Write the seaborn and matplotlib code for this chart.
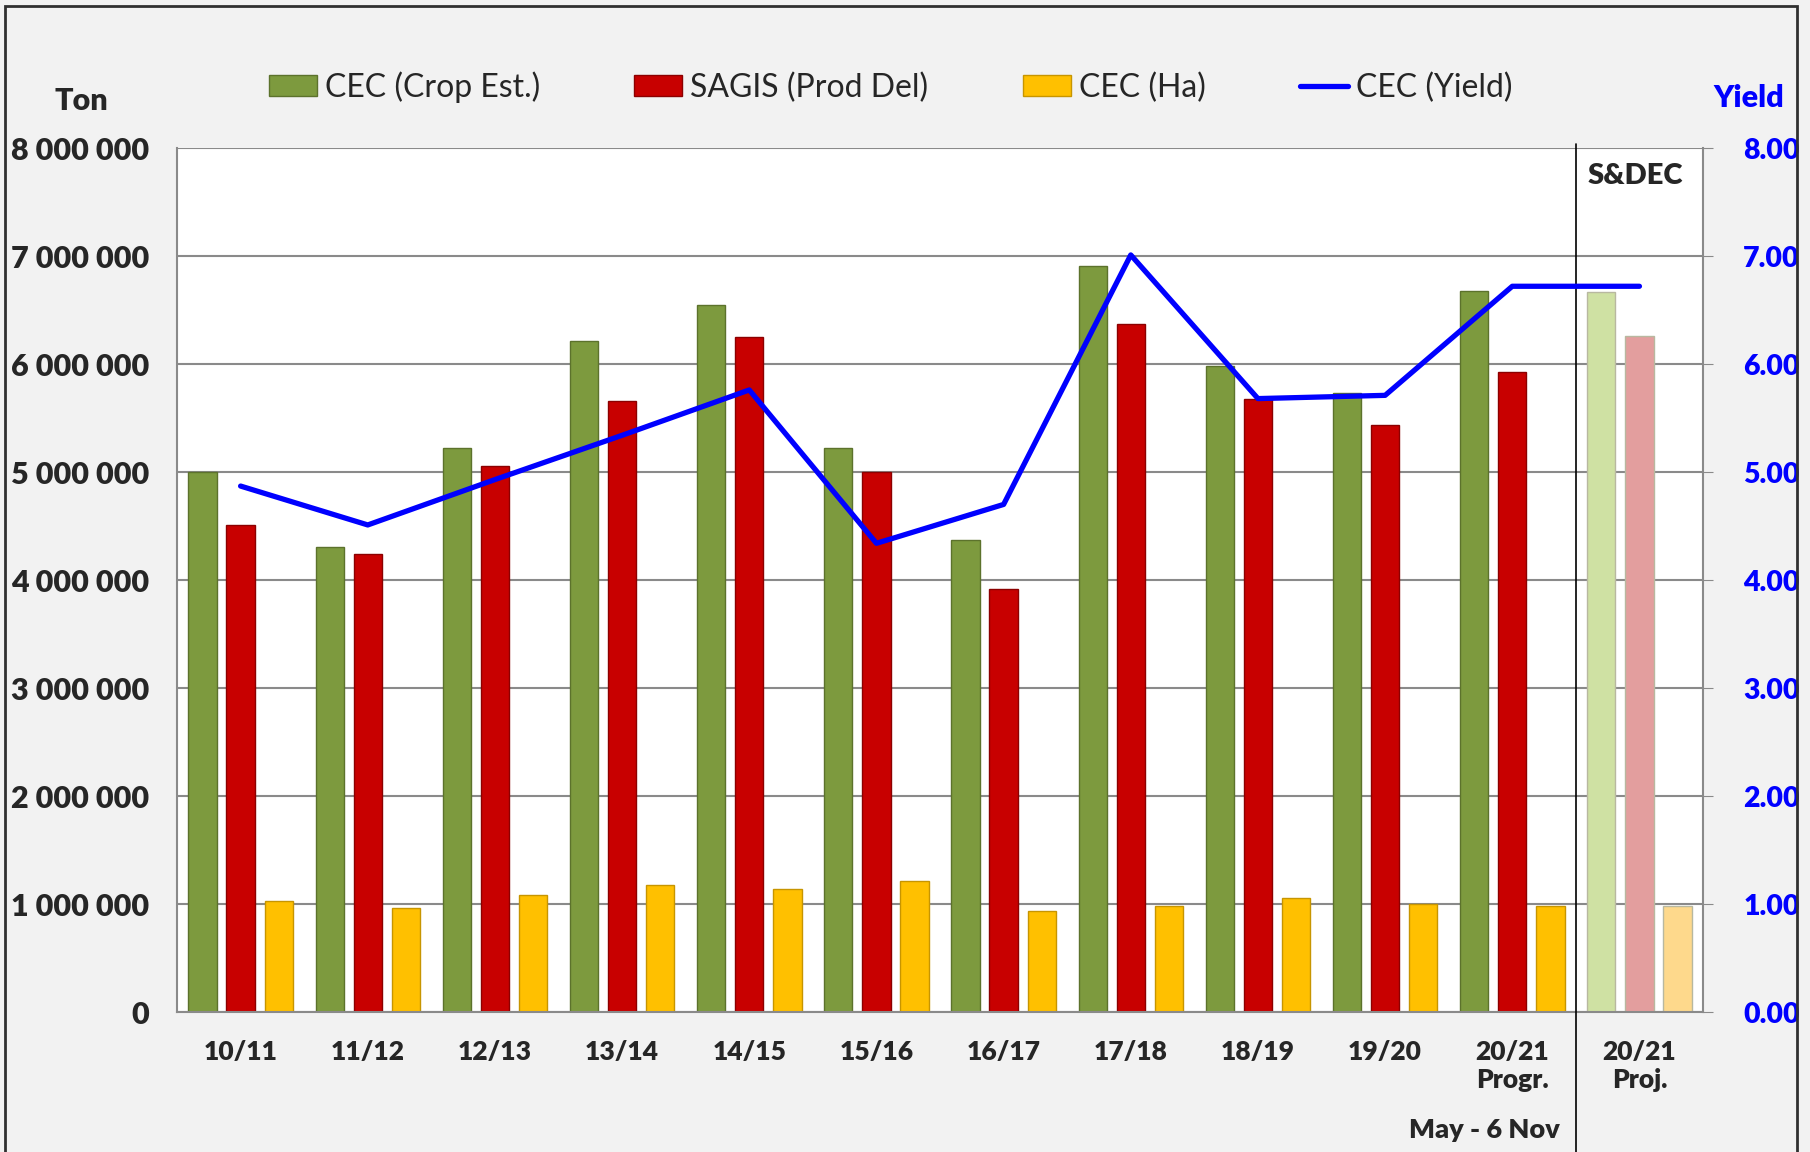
import numpy as np
import pandas as pd
import matplotlib.pyplot as plt
import seaborn as sns
from matplotlib.patches import Patch, Rectangle
from matplotlib.lines import Line2D
import matplotlib.transforms as mtransforms

sns.set_style("white")
plt.rcParams['font.family'] = ['Lato', 'DejaVu Sans']

# seasons (last one is the projection)
seasons = ["10/11", "11/12", "12/13", "13/14", "14/15", "15/16", "16/17",
           "17/18", "18/19", "19/20", "20/21\nProgr.", "20/21\nProj."]
crop_est = [5.00e6, 4.31e6, 5.22e6, 6.21e6, 6.55e6, 5.22e6, 4.37e6,
            6.91e6, 5.98e6, 5.73e6, 6.68e6, 6.67e6]
sagis = [4.51e6, 4.24e6, 5.06e6, 5.66e6, 6.25e6, 5.00e6, 3.92e6,
         6.37e6, 5.68e6, 5.44e6, 5.93e6, 6.26e6]
hectares = [1.03e6, 0.96e6, 1.08e6, 1.18e6, 1.14e6, 1.21e6, 0.94e6,
            0.98e6, 1.06e6, 1.00e6, 0.98e6, 0.98e6]
yield_t = [4.87, 4.51, 4.93, 5.34, 5.76, 4.34, 4.70, 7.01, 5.68, 5.71, 6.72, 6.72]

series_names = ["CEC (Crop Est.)", "SAGIS (Prod Del)", "CEC (Ha)"]
colors = ["#7d9a3e", "#c80000", "#ffc000"]
edges = ["#5c722c", "#8c0000", "#c79500"]
proj_colors = ["#cfe1a3", "#e39e9e", "#fed98c"]

BOLD = "heavy"

df = pd.DataFrame({
    "season": seasons * 3,
    "series": [s for s in series_names for _ in seasons],
    "value": crop_est + sagis + hectares,
})

fig = plt.figure(figsize=(18.10, 11.52), dpi=100)
fig.patch.set_facecolor("#f2f2f2")
ax = fig.add_axes([0.0978, 0.1215, 0.8431, 0.75])
ax.set_facecolor("white")

sns.barplot(data=df, x="season", y="value", hue="series", order=seasons,
            hue_order=series_names, palette=colors, width=0.9, gap=0.26,
            legend=False, ax=ax, saturation=1)

for i, cont in enumerate(ax.containers):
    for j, bar in enumerate(cont):
        bar.set_edgecolor(edges[i])
        bar.set_linewidth(1)
        if j == len(seasons) - 1:
            bar.set_facecolor(proj_colors[i])
            bar.set_edgecolor("#b8b8a0")

ax.set_xlim(-0.5, len(seasons) - 0.5)
ax.set_ylim(0, 8e6)
ax.set_yticks(np.arange(0, 8.1e6, 1e6))
ax.set_yticklabels(["0"] + [f"{int(v):,}".replace(",", " ") for v in np.arange(1e6, 8.1e6, 1e6)])
ax.set_axisbelow(True)
ax.yaxis.grid(True, color="#8a8a8a", linewidth=1.5)
ax.set_xlabel("")
ax.set_ylabel("")
ax.tick_params(axis="y", labelsize=22, pad=20, length=0)
ax.tick_params(axis="x", labelsize=19, pad=20, length=0)
for lbl in ax.get_yticklabels() + ax.get_xticklabels():
    lbl.set_fontweight(BOLD)
for side in ["left", "bottom", "right"]:
    ax.spines[side].set_color("#8a8a8a")
    ax.spines[side].set_linewidth(1.5)
ax.spines["top"].set_visible(False)

# yield on secondary axis
ax2 = ax.twinx()
sns.lineplot(x=np.arange(len(seasons)), y=yield_t, color="#0000ff",
             linewidth=3.8, ax=ax2)
ax2.set_ylim(0, 8)
ax2.set_yticks(np.arange(0, 8.1, 1))
ax2.set_yticklabels([f"{v:.2f}" for v in np.arange(0, 8.1, 1)])
ax2.tick_params(axis="y", labelsize=20.5, pad=22, length=7, color="#8a8a8a",
                labelcolor="#0000ff")
for lbl in ax2.get_yticklabels():
    lbl.set_fontweight(BOLD)
for s in ax2.spines.values():
    s.set_visible(False)

# divider between progress and projection
trans = mtransforms.blended_transform_factory(ax.transData, ax.transAxes)
ax.plot([10.5, 10.5], [1.005, -0.17], color="black", linewidth=1.2,
        transform=trans, clip_on=False, zorder=5)
ax.text(10.97, 0.968, "S&DEC", transform=trans, ha="center", va="center",
        fontsize=21, fontweight=BOLD)

fig.text(0.045, 0.912, "Ton", ha="center", va="center", fontsize=22, fontweight=BOLD)
fig.text(0.966, 0.915, "Yield", ha="center", va="center", fontsize=22,
         fontweight=BOLD, color="#0000ff")
fig.text(0.820, 0.019, "May - 6 Nov", ha="center", va="center", fontsize=19.5,
         fontweight=BOLD)

handles = [Patch(facecolor=c, edgecolor=e) for c, e in zip(colors, edges)]
handles.append(Line2D([0], [0], color="#0000ff", linewidth=3.8))
fig.legend(handles, series_names + ["CEC (Yield)"], loc="center",
           bbox_to_anchor=(0.492, 0.9245), ncol=4, frameon=False, fontsize=23,
           handlelength=1.5, handleheight=0.6, handletextpad=0.25,
           columnspacing=2.95)

fig.add_artist(Rectangle((0.003, -0.01), 0.99, 1.005, transform=fig.transFigure,
                         fill=False, edgecolor="#303030", linewidth=2))

fig.savefig("out.png", dpi=100, facecolor=fig.get_facecolor())
